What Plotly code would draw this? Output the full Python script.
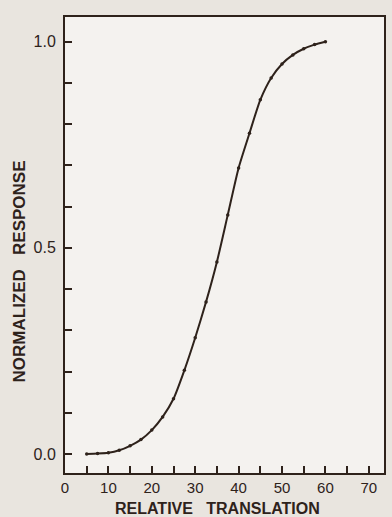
import plotly.graph_objects as go

# Data
translation = [5, 7.5, 10, 12.5, 15, 17.5, 20, 22.5, 25, 27.5, 30, 32.5, 35,
               37.5, 40, 42.5, 45, 47.5, 50, 52.5, 55, 57.5, 60]
response = [0.0, 0.001, 0.003, 0.009, 0.02, 0.035, 0.058, 0.09, 0.134, 0.203,
            0.282, 0.369, 0.466, 0.58, 0.694, 0.778, 0.859, 0.912, 0.946,
            0.968, 0.983, 0.993, 1.0]

x_tickvals = [0, 10, 20, 30, 40, 50, 60, 70]
x_ticktext = ["0", "10", "20", "30", "40", "50", "60", "70"]
y_tickvals = [0.0, 0.5, 1.0]
y_ticktext = ["0.0", "0.5", "1.0"]

ink = "#2e221b"
font_family = "Liberation Sans, Arial, sans-serif"
paper = "#e9e5df"
gap = "\u00a0" * 3

fig = go.Figure()
fig.add_trace(go.Scatter(
    x=translation, y=response, mode="lines+markers",
    line=dict(color=ink, width=2, shape="spline", smoothing=0.6),
    marker=dict(color=ink, size=3.5),
    showlegend=False, hoverinfo="skip",
))

fig.update_xaxes(
    range=[0, 73.5], tickmode="array", tickvals=x_tickvals, ticktext=x_ticktext,
    ticks="inside", ticklen=7, tickwidth=2, tickcolor=ink,
    minor=dict(dtick=5, ticks="inside", ticklen=7, tickwidth=2, tickcolor=ink),
    showline=True, linewidth=2, linecolor=ink, mirror=True,
    showgrid=False, zeroline=False,
    tickfont=dict(size=15, color=ink, family=font_family),
    ticklabelstandoff=0,
)
fig.update_yaxes(
    range=[-0.046, 1.06], tickmode="array", tickvals=y_tickvals, ticktext=y_ticktext,
    ticks="inside", ticklen=7, tickwidth=2, tickcolor=ink,
    minor=dict(dtick=0.1, tick0=0, ticks="inside", ticklen=7, tickwidth=2, tickcolor=ink),
    showline=True, linewidth=2, linecolor=ink, mirror=True,
    showgrid=False, zeroline=False,
    tickfont=dict(size=16, color=ink, family=font_family),
    ticklabelstandoff=4,
)

fig.add_annotation(
    text="<b>RELATIVE" + gap + "TRANSLATION</b>", xref="paper", yref="paper",
    x=0.477, y=0, yshift=-35, xanchor="center", yanchor="middle", showarrow=False,
    font=dict(size=16, color=ink, family=font_family), borderpad=0,
)
fig.add_annotation(
    text="<b>NORMALIZED" + gap + "RESPONSE</b>", xref="paper", yref="paper",
    x=0, xshift=-46, y=0.442, xanchor="center", yanchor="middle", showarrow=False,
    textangle=-90,
    font=dict(size=17, color=ink, family=font_family),
)

fig.update_layout(
    width=392, height=517,
    margin=dict(l=65, r=6, t=17, b=44),
    paper_bgcolor=paper,
    plot_bgcolor="#f4f2ef",
)

fig.write_html(
    "out.html",
    config={"displayModeBar": False},
    post_script=(
        "document.body.style.margin='0';"
        "document.body.style.background='" + paper + "';"
    ),
)
